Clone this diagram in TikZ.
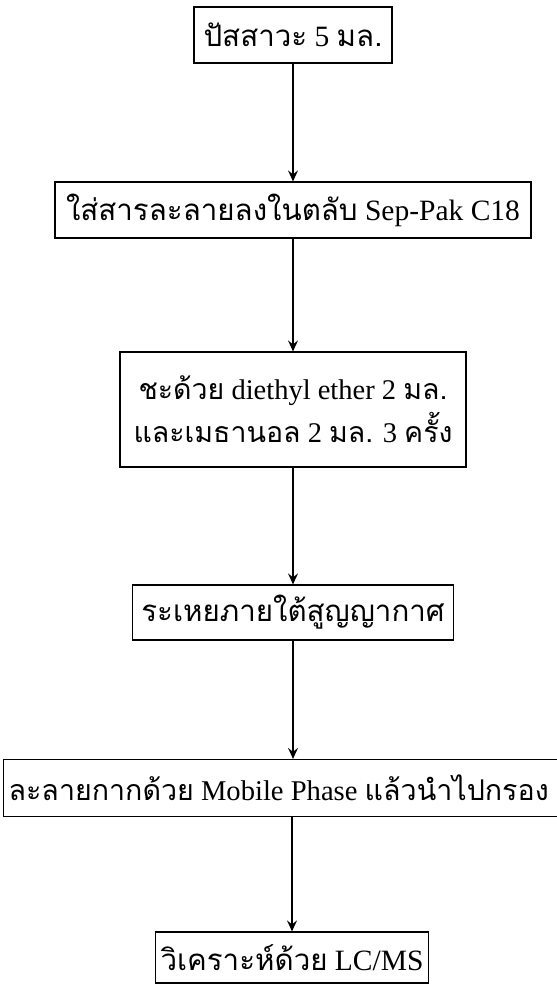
\documentclass[tikz,border=0pt]{standalone}
\usepackage{fontspec}
\setmainfont{Liberation Serif}
\newfontfamily\thf[Script=Thai]{Loma}
\usetikzlibrary{arrows.meta}
\tikzset{
  stepbox/.style={draw, line width=1.2pt, inner sep=0pt, font=\fontsize{29.5}{43}\selectfont, align=center},
  flow/.style={draw, line width=1.4pt, -{Stealth[length=11pt,width=10pt,inset=4pt]}}
}
\begin{document}
\begin{tikzpicture}[x=1pt,y=-1pt]
\useasboundingbox (0,0) rectangle (557,989);
\node[stepbox, minimum width=198pt, minimum height=56pt] (b1) at (293,35) {{\thf ปัสสาวะ} 5 {\thf มล.}};
\node[stepbox, minimum width=476pt, minimum height=56pt] (b2) at (293,210) {{\thf ใส่สารละลายลงในตลับ} Sep-Pak C18};
\node[stepbox, font=\fontsize{28.5}{43}\selectfont, minimum width=346pt, minimum height=115pt] (b3) at (293,409.5) {{\thf ชะด้วย} diethyl ether 2 {\thf มล.}\\{\thf และเมธานอล} 2 {\thf มล.} 3 {\thf ครั้ง}};
\node[stepbox, minimum width=321pt, minimum height=55pt] (b4) at (293,612.5) {{\thf ระเหยภายใต้สูญญากาศ}};
\node[stepbox, font=\fontsize{28.6}{43}\selectfont, anchor=west, minimum height=57pt, inner xsep=5pt] (b5) at (3,788) {\makebox[560pt][l]{{\thf ละลายกากด้วย} Mobile Phase {\thf แล้วนำไปกรอง}}};
\node[stepbox, minimum width=273pt, minimum height=51pt] (b6) at (292,957.5) {{\thf วิเคราะห์ด้วย} LC/MS};
\draw[flow] (b1.south) -- (b2.north);
\draw[flow] (b2.south) -- (b3.north);
\draw[flow] (b3.south) -- (b4.north);
\draw[flow] (b4.south) -- (b4.south |- b5.north);
\draw[flow] (b6.north |- b5.south) -- (b6.north);
\end{tikzpicture}
\end{document}
